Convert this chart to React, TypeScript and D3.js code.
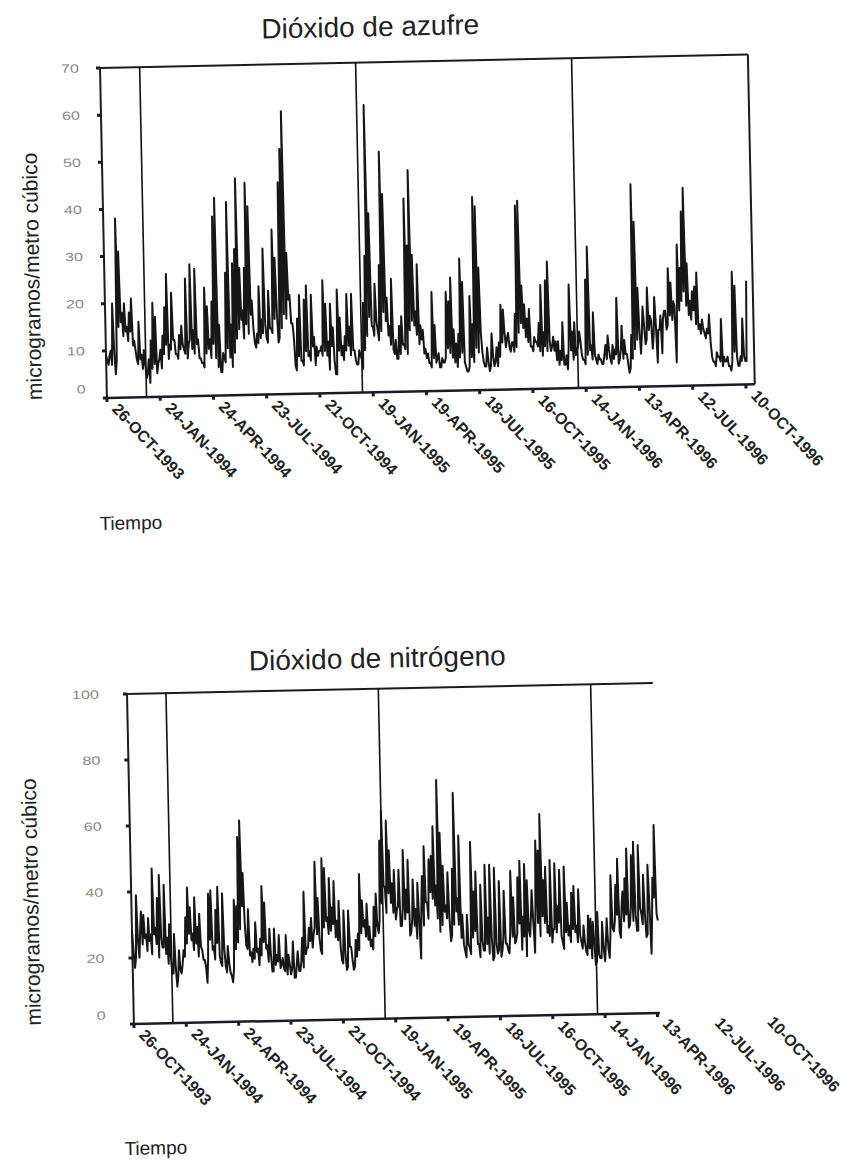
import * as d3 from "d3";

const SvgWidth = 842;
const SvgHeight = 1160;

// readings every 4 days from 26-OCT-1993
const so2Values = [
  9, 7, 10, 20, 5, 38, 31, 18, 20, 15,
  18, 21, 12, 8, 16, 9, 10, 4, 8, 12,
  20, 17, 7, 10, 13, 19, 26, 11, 22, 12,
  9, 13, 15, 10, 25, 11, 28, 14, 27, 12,
  8, 7, 23, 19, 12, 20, 38, 42, 15, 5,
  8, 26, 41, 15, 28, 31, 46, 27, 18, 27,
  45, 40, 20, 11, 13, 23, 16, 31, 12, 22,
  14, 35, 29, 11, 45, 52, 60, 30, 21, 15,
  6, 16, 21, 7, 20, 23, 9, 21, 12, 10,
  9, 10,
  24, 19, 11, 19, 14, 4, 22, 16,
  10, 12, 21, 14, 21, 9, 6, 9, 7, 19,
  29, 61, 38, 14, 23, 13, 27, 51, 42, 20,
  14, 24, 8, 7, 14, 16, 10, 41, 31, 47,
  29, 17, 27, 14, 13, 9, 8, 6, 21, 14,
  7, 5, 7, 6, 21, 19, 24, 13, 10, 12,
  28, 23, 5, 4, 20, 14, 41, 39, 26, 8,
  5, 9, 4, 12, 5, 9, 10, 18, 17, 9,
  12, 8, 10, 16, 39, 40, 22, 18, 15, 17,
  9, 11, 10, 14,
  22, 12, 23, 27, 8, 11,
  10, 10, 8, 14, 5, 4, 22, 12, 14, 8,
  12, 7, 6, 23, 30, 9, 16, 6, 7, 6,
  5, 9, 11, 6, 9, 8, 19, 6, 13, 10,
  7, 3, 11, 43, 35, 21, 7, 17, 9, 21,
  15, 8, 19, 5, 12, 7, 16, 12, 25, 22,
  18, 5, 30, 25, 37, 42, 26, 18, 20, 21,
  24, 13, 14, 11, 12, 15, 6, 5, 7, 6,
  14, 6, 5, 4, 3, 24, 21, 4, 6, 14,
  5, 22
];

// readings 2 days after each of the above (the lower edge of the band)
const so2Lows = [
  8, 9, 7, 10, 8,
  15, 16, 13, 14, 12, 14, 11, 10,
  7, 8, 6, 7,
  5, 3, 6, 7, 5, 8, 6,
  9, 11, 8, 10, 12, 9, 8, 10, 11, 9, 8, 12, 10, 9, 11, 8, 7, 6, 9, 10, 8, 11,
  8, 6, 5, 9, 7, 10, 8, 6, 9, 12,
  14, 16, 12, 15, 13, 17, 14, 10, 11, 12, 13,
  15, 11, 14, 13, 16, 18, 12, 14, 17, 16, 20, 15, 12,
  5, 8, 7, 6, 9, 8, 7, 10, 6, 8, 9, 8,
  9, 8, 5, 10, 7, 4, 9, 8, 7, 9, 10, 8, 9, 7, 6, 8, 5, 9, 12,
  16, 14, 12, 15, 11, 13, 17, 15, 12, 10, 9, 11, 7, 8, 10, 9, 8, 13, 15, 14, 12, 10, 11, 8, 7,
  6, 5, 7, 6, 8, 5, 6, 7, 9, 8, 7, 6, 5, 7, 8, 6, 4, 5, 7, 6, 9, 8, 12, 6, 5, 6, 5, 7, 6, 5, 7,
  10, 12, 11, 9, 10, 8, 9, 12, 14, 13, 11, 10, 9, 8, 10, 9, 8, 7, 9, 8, 10, 9, 8, 6, 5, 6, 5, 7, 9, 8, 6, 7, 9, 10,
  6, 5, 7, 8, 6, 7, 5, 6, 5, 7, 6, 8, 5, 6, 7, 5, 8, 6, 7, 5, 4, 6,
  8, 10, 12, 11, 13, 10, 12, 14, 11, 13, 12, 15, 14, 16, 13, 15, 14, 17, 15, 16, 18, 20, 17, 15, 14, 16, 13, 12, 11, 12, 10, 11, 9,
  5, 4, 6, 5, 4, 5, 6, 4, 5, 7, 6, 4, 5, 6, 5
];

const no2Values = [
  28, 17, 39, 20, 34, 33, 27, 32, 27, 47,
  29, 38, 45, 23, 42, 26, 30, 15, 27, 11,
  22, 15, 22, 32, 41, 35, 27, 38, 29, 33,
  22, 19, 12, 39, 40, 23, 34, 41, 18, 39,
  17, 23, 15, 12, 37, 35, 56, 61, 45, 23,
  34, 21, 22, 30, 22, 25, 41, 36, 23, 28,
  15, 28, 20, 26, 17, 16, 26, 20, 14, 24,
  13, 21, 15, 25, 39, 22,
  28, 31, 26, 48,
  37, 21, 49, 46, 31, 43, 34, 42, 30, 36,
  18, 33, 15, 33, 22, 15, 24, 26, 44, 36,
  30, 35, 28, 24, 34, 38, 26, 54, 63, 40,
  60, 51, 41, 45, 33, 45, 28, 51, 39, 48,
  26, 42, 33, 41, 18, 43, 52, 35, 48, 49,
  58, 40, 72, 56, 46, 34, 44, 23, 45, 68,
  36, 55, 31, 20, 31, 21, 53, 38, 44, 22,
  40, 20, 46,
  30, 46, 17, 45, 19, 41, 20,
  38, 22, 19, 44, 36, 23, 42, 47, 30, 46,
  41, 24, 38, 19, 53, 50, 61, 41, 45, 27,
  47, 26, 46, 33, 44, 22, 45, 34, 27, 37,
  39, 27, 38, 22, 27, 19, 30, 29, 28, 15,
  31, 17, 28, 16, 29, 17, 42, 25, 39, 47,
  23, 37, 41, 50, 27, 48, 52, 25, 51, 30,
  42, 23, 45, 18, 41, 57, 28
];

const no2Lows = [
  22, 20, 25, 28, 24, 26, 22, 25, 21, 27, 24, 20, 26, 23, 21, 18, 20, 15, 17, 14,
  16, 18, 20, 24, 27, 25, 22, 24, 20, 23, 19, 17, 20, 25, 22, 19, 24, 20, 17, 22, 15, 18, 14, 16, 22, 24,
  28, 35, 30, 22, 20, 18, 19, 21, 17, 20, 24, 22, 18, 20, 15, 17, 18, 16, 19, 15, 14, 17, 16, 13, 17, 15, 18, 16, 20, 22,
  24, 22, 28, 26, 25, 20, 28, 30, 26, 27, 29, 25, 24, 22, 17, 20, 16, 22, 18, 16, 19, 21, 26, 28, 25, 24, 22, 21, 25, 28,
  30, 35, 40, 32, 38, 35, 32, 30, 34, 28, 33, 30, 32, 25, 30, 28, 24, 30, 33, 28, 35, 30, 38, 36, 34, 30, 26, 28, 32, 30,
  30, 25, 28, 32, 28, 24, 22, 18, 22, 19, 24, 26, 22, 18, 23, 20, 22, 19, 24, 18, 22, 20, 18, 24, 22, 20, 26, 24, 22, 25, 28, 20, 24, 18, 26, 30, 28, 32, 28, 24,
  30, 28, 25, 24, 22, 26, 25, 28, 24, 20, 25, 24, 22, 26, 25, 22, 24, 20, 22, 18, 20, 17, 22, 16, 18, 17, 20, 22, 20, 24,
  26, 28, 30, 25, 32, 28, 30, 26, 32, 28, 30, 25, 32, 27, 30, 24, 33, 28, 35, 30
];

const tickLabels = [
  "26-OCT-1993", "24-JAN-1994", "24-APR-1994", "23-JUL-1994", "21-OCT-1994",
  "19-JAN-1995", "19-APR-1995", "18-JUL-1995", "16-OCT-1995", "14-JAN-1996",
  "13-APR-1996", "12-JUL-1996", "10-OCT-1996"
];
const yearMarks = ["01-JAN-1994", "01-JAN-1995", "01-JAN-1996"];
const so2Ticks = [0, 10, 20, 30, 40, 50, 60, 70];
const no2Ticks = [0, 20, 40, 60, 80, 100];

const parseDay = d3.utcParse("%d-%b-%Y");
const startDay = parseDay("26-OCT-1993");
const stepDays = 2;

const fontFam = "'Liberation Sans', Arial, sans-serif";
const lineColor = "#161616";
const axisColor = "#1b1b26";

// interleave the 4-day readings with the in-between ones
function series(main, lows) {
  let out = [];
  main.forEach((v, i) => {
    out.push(v);
    if (i < lows.length) out.push(lows[i]);
  });
  return out;
}

function Panel({values, yTicks, yMax, title, p}: any) {
  const xScale = d3.scaleUtc()
    .domain([startDay, d3.utcDay.offset(startDay, p.domainDays)])
    .range([p.left, p.rangeEnd]);
  const yScale = d3.scaleLinear()
    .domain([0, yMax])
    .range([p.bottom, p.top]);

  const line = d3.line<number>()
    .x((d, i) => xScale(d3.utcDay.offset(startDay, i * stepDays)))
    .y(d => yScale(d));

  return (
    <g transform={`rotate(-1.2, ${p.left}, ${p.top})`} fontFamily={fontFam}>
      <text x={p.titleX} y={p.titleY} fontSize={28} textAnchor="middle" fill="#222">{title}</text>

      {/* frame */}
      <line x1={p.left} y1={p.top} x2={p.right} y2={p.top} stroke={axisColor} strokeWidth={2}/>
      <line x1={p.left} y1={p.top} x2={p.left} y2={p.bottom} stroke={axisColor} strokeWidth={2}/>
      {p.rightBorder &&
        <line x1={p.right} y1={p.top} x2={p.right} y2={p.bottom} stroke={axisColor} strokeWidth={2}/>}

      {/* year reference lines */}
      {yearMarks.map(s => {
        const x = xScale(parseDay(s));
        return <line key={s} x1={x} y1={p.top} x2={x} y2={p.bottom} stroke="#111" strokeWidth={1.6}/>;
      })}

      <path d={line(values) as string} fill="none" stroke={lineColor} strokeWidth={2} strokeLinejoin="round"/>

      <line x1={p.left} y1={p.bottom} x2={p.right} y2={p.bottom} stroke={axisColor} strokeWidth={2.5}/>

      {/* y ticks */}
      {yTicks.map(t => (
        <g key={t}>
          <line x1={p.left - 4} y1={yScale(t)} x2={p.left} y2={yScale(t)} stroke={axisColor} strokeWidth={3}/>
          <text transform={`translate(${p.tickLabelRight}, ${yScale(t) + (t === 0 ? -5 : 4)}) scale(1.35, 1)`}
                fontSize={12} textAnchor="end" fill="#8a8a8a">{t}</text>
        </g>
      ))}

      {/* x ticks and labels */}
      {tickLabels.map(s => {
        const x = xScale(parseDay(s));
        return (
          <g key={s}>
            {x <= p.right + 1 &&
              <line x1={x} y1={p.bottom} x2={x} y2={p.bottom + 4} stroke={axisColor} strokeWidth={3}/>}
            <text transform={`translate(${x + 4}, ${p.bottom + 12}) rotate(48)`}
                  fontSize={16} fontWeight="bold" fill="#222">{s}</text>
          </g>
        );
      })}

      <text transform={`translate(${p.yLabelX}, ${p.yLabelY}) rotate(-90)`} fontSize={21}
            textAnchor="middle" fill="#222">microgramos/metro cúbico</text>
      <text x={p.tiempoX} y={p.tiempoY} fontSize={19} fill="#222">Tiempo</text>
    </g>
  );
}

const so2Frame = {
  left: 100, top: 68, right: 748, bottom: 398, rangeEnd: 748, domainDays: 1095,
  rightBorder: true, titleX: 371, titleY: 42, yLabelX: 35, yLabelY: 275,
  tiempoX: 90, tiempoY: 530, tickLabelRight: 79
};

const no2Frame = {
  left: 127, top: 694, right: 653, bottom: 1024, rangeEnd: 653, domainDays: 904,
  rightBorder: false, titleX: 378, titleY: 673, yLabelX: 34, yLabelY: 900,
  tiempoX: 115, tiempoY: 1155, tickLabelRight: 99
};

export default function App() {
  return (
    <svg width={SvgWidth} height={SvgHeight}
         style={{position: "absolute", left: 0, top: 0, background: "#fff"}}>
      <Panel values={series(so2Values, so2Lows)} yTicks={so2Ticks} yMax={70} title="Dióxido de azufre" p={so2Frame}/>
      <Panel values={series(no2Values, no2Lows)} yTicks={no2Ticks} yMax={100} title="Dióxido de nitrógeno" p={no2Frame}/>
    </svg>
  );
}
